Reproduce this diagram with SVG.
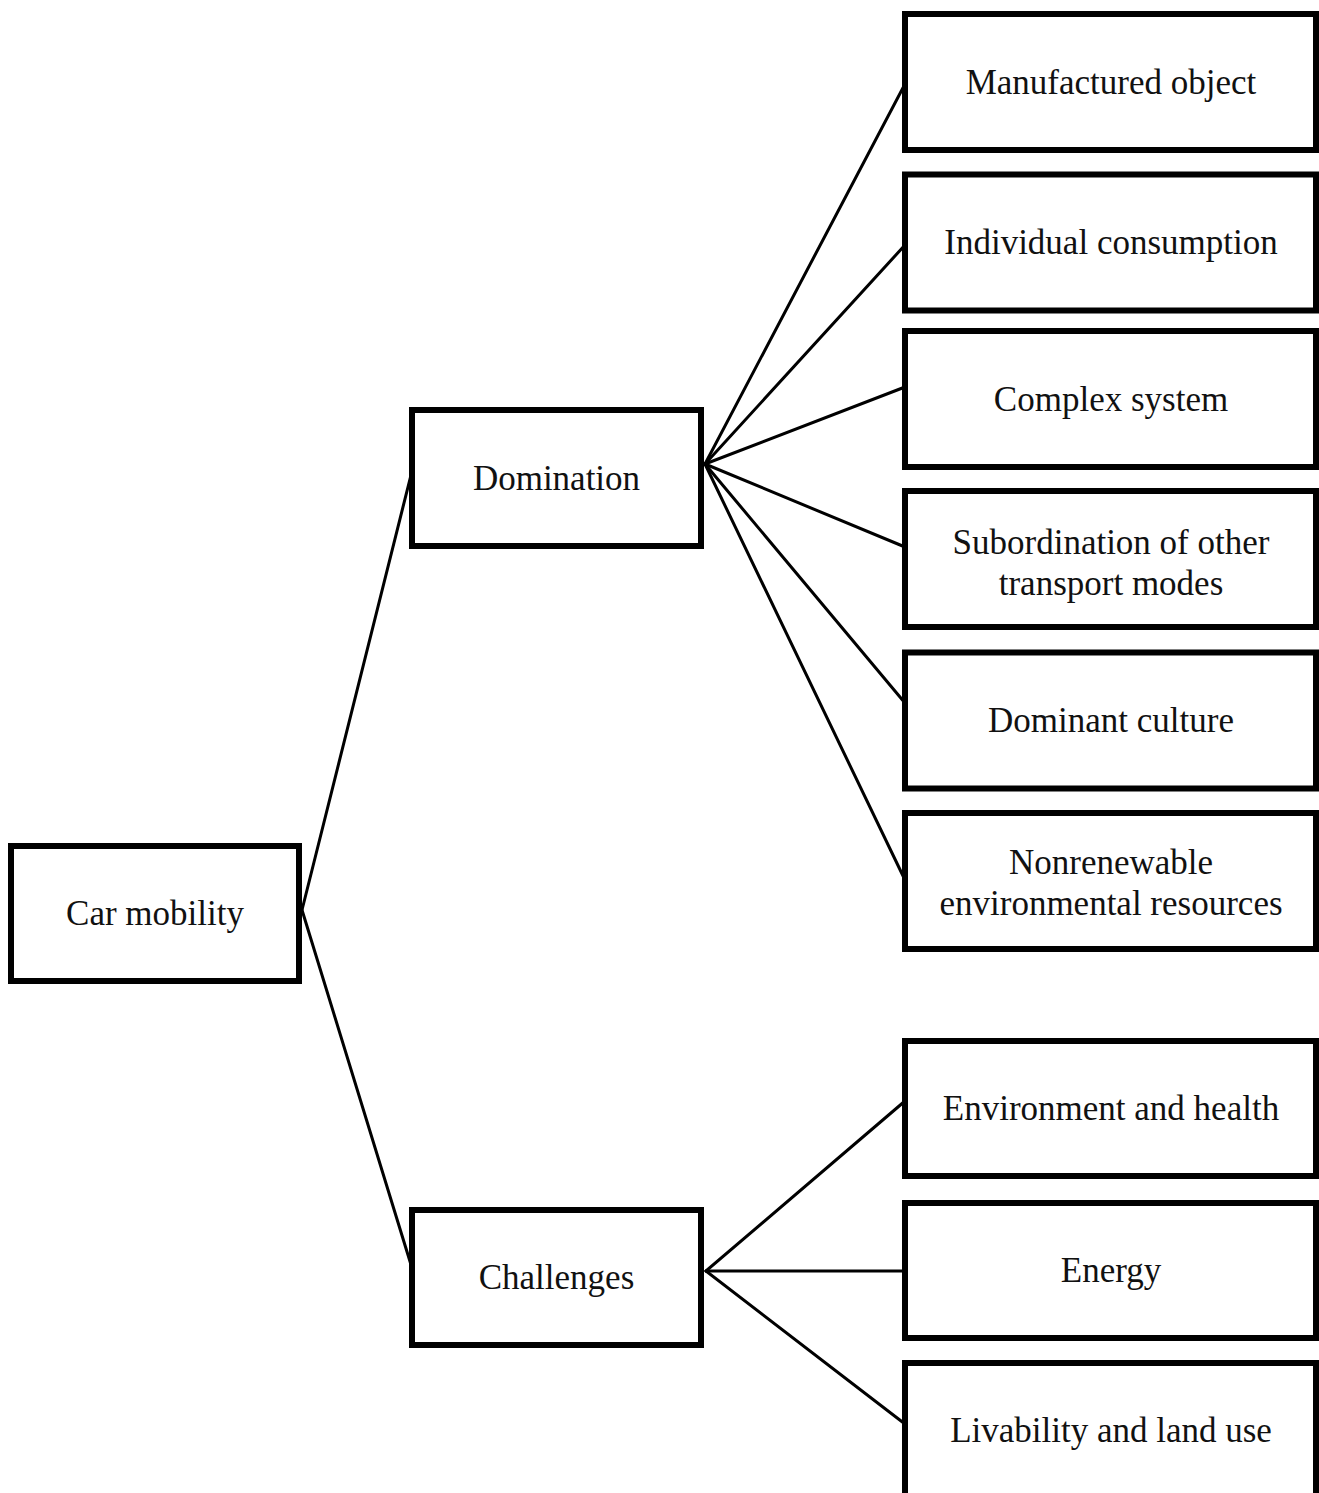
<svg xmlns="http://www.w3.org/2000/svg" width="1319" height="1493" viewBox="0 0 1319 1493">
<style>
.box{fill:#fff;stroke:#000;stroke-width:6}
.lbl{font-family:"Liberation Serif","Times New Roman",serif;font-size:35px;fill:#111;text-anchor:middle}
.con line{stroke:#000;stroke-width:3;stroke-linecap:round}
</style>
<rect width="1319" height="1493" fill="#fff"/>
<g id="connectors" class="con">
<line x1="302" y1="910" x2="412" y2="471"/>
<line x1="302" y1="910" x2="412" y2="1268"/>
<line x1="705" y1="464" x2="905" y2="84"/>
<line x1="705" y1="464" x2="905" y2="245"/>
<line x1="705" y1="464" x2="905" y2="387"/>
<line x1="705" y1="464" x2="905" y2="547"/>
<line x1="705" y1="464" x2="905" y2="703"/>
<line x1="705" y1="464" x2="905" y2="880"/>
<line x1="706" y1="1271" x2="905" y2="1101"/>
<line x1="706" y1="1271" x2="905" y2="1271"/>
<line x1="706" y1="1271" x2="905" y2="1424"/>
</g>
<g id="car-mobility"><rect class="box" x="11" y="846" width="288" height="135"/><text class="lbl" x="155" y="925">Car mobility</text></g>
<g id="domination"><rect class="box" x="412" y="410" width="289" height="136"/><text class="lbl" x="556.5" y="490">Domination</text></g>
<g id="challenges"><rect class="box" x="412" y="1210" width="289" height="135"/><text class="lbl" x="556.5" y="1289">Challenges</text></g>
<g id="manufactured-object"><rect class="box" x="905" y="14" width="411" height="136"/><text class="lbl" x="1111" y="93.5">Manufactured object</text></g>
<g id="individual-consumption"><rect class="box" x="905" y="174.5" width="411" height="136"/><text class="lbl" x="1111" y="254">Individual consumption</text></g>
<g id="complex-system"><rect class="box" x="905" y="331" width="411" height="136"/><text class="lbl" x="1111" y="410.5">Complex system</text></g>
<g id="subordination"><rect class="box" x="905" y="491" width="411" height="136"/><text class="lbl" x="1111" y="554">Subordination of other</text><text class="lbl" x="1111" y="595">transport modes</text></g>
<g id="dominant-culture"><rect class="box" x="905" y="652.5" width="411" height="136"/><text class="lbl" x="1111" y="732">Dominant culture</text></g>
<g id="nonrenewable"><rect class="box" x="905" y="813" width="411" height="136"/><text class="lbl" x="1111" y="874">Nonrenewable</text><text class="lbl" x="1111" y="915">environmental resources</text></g>
<g id="environment-health"><rect class="box" x="905" y="1041" width="411" height="135"/><text class="lbl" x="1111" y="1120">Environment and health</text></g>
<g id="energy"><rect class="box" x="905" y="1203" width="411" height="135"/><text class="lbl" x="1111" y="1282">Energy</text></g>
<g id="livability"><rect class="box" x="905" y="1363" width="411" height="136"/><text class="lbl" x="1111" y="1442">Livability and land use</text></g>
</svg>
